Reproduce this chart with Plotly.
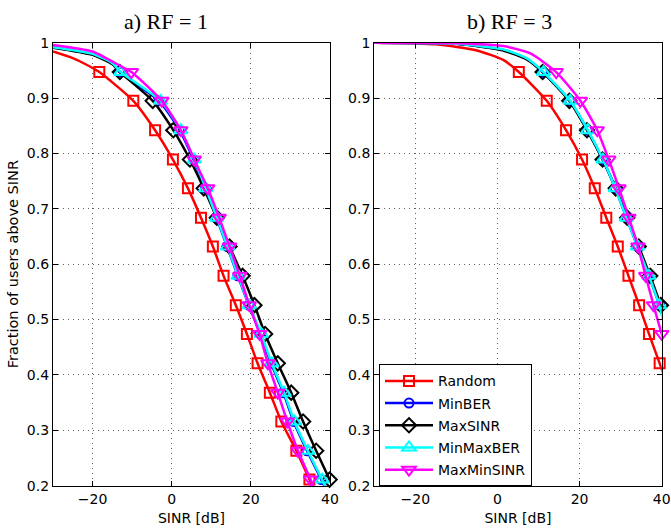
import plotly.graph_objects as go

# ---------------- data ----------------
names = ["Random", "MinBER", "MaxSINR", "MinMaxBER", "MaxMinSINR"]
colors = ["#ff0000", "#0000ff", "#000000", "#00ffff", "#ff00ff"]
symbols = ["square-open", "circle-open", "diamond-open", "triangle-up-open", "triangle-down-open"]
msizes = [10, 9, 11, 12, 12]

# fraction of users at marker positions
marker_y = [0.947, 0.895, 0.842, 0.789, 0.737, 0.684, 0.632, 0.579,
            0.526, 0.474, 0.421, 0.368, 0.316, 0.263, 0.211]

# ---- a) RF = 1 : SINR [dB] at marker levels ----
rf1_random = [-18.3, -9.7, -4.2, 0.3, 4.1, 7.4, 10.4, 13.1, 16.2, 19.0, 21.7, 24.8, 27.7, 31.5, 34.8]
rf1_minber = [-13.2, -3.2, 2.0, 5.5, 8.5, 11.3, 14.0, 16.7, 19.5, 22.4, 25.1, 28.2, 30.8, 34.2, 37.8]
rf1_maxsinr = [-13.1, -4.8, 0.4, 4.6, 8.1, 11.4, 14.6, 17.9, 20.9, 23.6, 26.8, 30.2, 33.2, 36.5, 39.9]
rf1_minmaxber = [-12.9, -2.8, 2.3, 5.7, 8.6, 11.4, 14.1, 16.8, 19.6, 22.6, 25.3, 28.4, 31.0, 34.4, 38.0]
rf1_maxminsinr = [-10.2, -2.5, 2.3, 5.7, 9.1, 12.0, 14.6, 17.2, 19.6, 22.2, 24.3, 26.8, 29.2, 31.9, 35.1]

# upper (unmarked) part of the curves, RF = 1
rf1_head_x = [[-30, -25, -22], [-30, -20, -15], [-30, -20, -15], [-30, -20, -15], [-30, -20, -13]]
rf1_head_y = [[0.984, 0.972, 0.962], [0.992, 0.979, 0.962], [0.991, 0.978, 0.961], [0.992, 0.980, 0.963], [0.996, 0.984, 0.958]]
rf1_tail_x = [36.1, 39.2, 41.2, 39.4, 36.4]
rf1_tail_y = [0.19, 0.19, 0.19, 0.19, 0.19]

# ---- b) RF = 3 ----
rf3_random = [5.2, 12.0, 16.7, 20.6, 23.7, 26.5, 29.3, 31.9, 34.5, 36.9, 39.5]
rf3_minber = [11.0, 17.6, 21.9, 25.6, 28.7, 31.4, 34.1, 36.9, 39.5]
rf3_maxsinr = [11.0, 17.5, 21.8, 25.6, 28.8, 31.6, 34.4, 37.2, 39.8]
rf3_minmaxber = [11.2, 17.7, 22.0, 25.7, 28.7, 31.4, 34.1, 36.9, 39.4]
rf3_maxminsinr = [14.3, 20.2, 24.3, 27.1, 29.6, 32.0, 34.2, 36.1, 38.0, 40.0]

rf3_head_x = [[-30, -15, -5, 1.4], [-30, -10, 1.4, 7.1], [-30, -10, 1.4, 7.1], [-30, -10, 1.4, 7.1], [-30, -10, 1.4, 7.9]]
rf3_head_y = [[1.0, 0.997, 0.986, 0.969], [1.0, 0.998, 0.987, 0.971], [1.0, 0.998, 0.986, 0.970], [1.0, 0.998, 0.988, 0.972], [1.0, 0.999, 0.994, 0.981]]
rf3_tail_x = [41.0, 41.0, 41.0, 40.6, 41.0]
rf3_tail_y = [0.39, 0.50, 0.51, 0.49, 0.45]

rf1_sets = [rf1_random, rf1_minber, rf1_maxsinr, rf1_minmaxber, rf1_maxminsinr]
rf3_sets = [rf3_random, rf3_minber, rf3_maxsinr, rf3_minmaxber, rf3_maxminsinr]

# ---------------- figure ----------------
W, H = 671, 529
LW = 2.5
fig = go.Figure()


def add_panel(sets, heads_x, heads_y, tails_x, tails_y, xa, ya):
    for i, mx in enumerate(sets):
        my = marker_y[:len(mx)]
        lx = heads_x[i] + mx + [tails_x[i]]
        ly = heads_y[i] + my + [tails_y[i]]
        fig.add_trace(go.Scatter(
            x=lx, y=ly, mode="lines", xaxis=xa, yaxis=ya, showlegend=False,
            line=dict(color=colors[i], width=LW, shape="spline", smoothing=0.6),
            hoverinfo="skip"))
        fig.add_trace(go.Scatter(
            x=mx, y=my, mode="markers", xaxis=xa, yaxis=ya, showlegend=False,
            cliponaxis=False, name=names[i],
            marker=dict(symbol=symbols[i], size=msizes[i], color=colors[i],
                        line=dict(color=colors[i], width=2))))


add_panel(rf1_sets, rf1_head_x, rf1_head_y, rf1_tail_x, rf1_tail_y, "x", "y")
add_panel(rf3_sets, rf3_head_x, rf3_head_y, rf3_tail_x, rf3_tail_y, "x2", "y2")

# legend entries
for i, n in enumerate(names):
    fig.add_trace(go.Scatter(
        x=[None], y=[None], mode="lines+markers", name=n, xaxis="x2", yaxis="y2",
        legendgroup=n,
        line=dict(color=colors[i], width=LW),
        marker=dict(symbol=symbols[i], size=msizes[i], color=colors[i],
                    line=dict(color=colors[i], width=2))))

tickfont = dict(family="DejaVu Sans", size=14, color="black")
gridstyle = dict(showgrid=True, gridcolor="#606060", griddash="1px,4px", gridwidth=1)
axcommon = dict(range=[-30, 40], tick0=-20, dtick=20, ticks="inside", ticklen=5,
                mirror="allticks", showline=True, linecolor="black", linewidth=1.3,
                zeroline=False, tickfont=tickfont, tickcolor="black", automargin=False,
                **gridstyle)
aycommon = dict(range=[0.2, 1.0], dtick=0.1, ticks="inside", ticklen=5,
                mirror="allticks", showline=True, linecolor="black", linewidth=1.3,
                zeroline=False, tickfont=tickfont, tickcolor="black", automargin=False,
                **gridstyle)

ydom = [1 - 485.7 / H, 1 - 42.7 / H]
fig.update_layout(
    width=W, height=H, autosize=False,
    margin=dict(l=0, r=0, t=0, b=0, pad=0),
    paper_bgcolor="white", plot_bgcolor="white",
    font=dict(family="DejaVu Sans", size=14, color="black"),
    xaxis=dict(domain=[53 / W, 330 / W], anchor="y",
               title=dict(text="SINR [dB]", font=tickfont, standoff=7), **axcommon),
    yaxis=dict(domain=ydom, anchor="x",
               title=dict(text="Fraction of users above SINR", font=dict(family="DejaVu Sans", size=14.5, color="black"), standoff=4),
               **aycommon),
    xaxis2=dict(domain=[374.3 / W, 661.7 / W], anchor="y2",
                title=dict(text="SINR [dB]", font=tickfont, standoff=7), **axcommon),
    yaxis2=dict(domain=ydom, anchor="x2", **aycommon),
    legend=dict(x=379 / W, y=1 - 364.3 / H, xanchor="left", yanchor="top",
                bgcolor="white", bordercolor="black", borderwidth=1,
                font=dict(family="DejaVu Sans", size=14, color="black"),
                itemwidth=48, tracegroupgap=1),
    annotations=[
        dict(text="a) RF = 1", x=166 / W, y=1 - 21 / H, xref="paper", yref="paper",
             showarrow=False, xanchor="center", yanchor="middle",
             font=dict(family="Liberation Serif", size=22, color="black")),
        dict(text="b) RF = 3", x=509 / W, y=1 - 21 / H, xref="paper", yref="paper",
             showarrow=False, xanchor="center", yanchor="middle",
             font=dict(family="Liberation Serif", size=22, color="black")),
    ],
)

fig.write_html("out.html", config={"displayModeBar": False},
               post_script="document.body.style.margin='0';")
